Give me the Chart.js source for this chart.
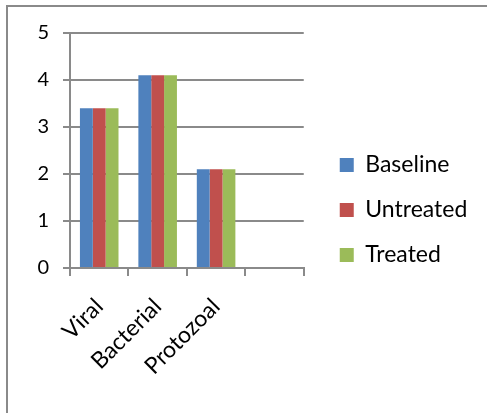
<!DOCTYPE html>
<html>
<head>
<meta charset="utf-8">
<script src="https://cdn.jsdelivr.net/npm/chart.js@4/dist/chart.umd.min.js"></script>
<style>
  html, body { margin: 0; padding: 0; background: #ffffff; }
  #wrap { position: relative; width: 487px; height: 413px; overflow: hidden; }
  #frame { position: absolute; left: 6px; top: 5px; width: 600px; height: 600px;
           border-top: 2px solid #8a8a8a; border-left: 2px solid #8a8a8a; pointer-events: none; }
  canvas { position: absolute; left: 0; top: 0; }
</style>
</head>
<body>
<div id="wrap">
  <canvas id="chart" width="487" height="413"></canvas>
  <div id="frame"></div>
</div>
<script>
// Infection categories (the last slot is left empty on purpose)
const categories = ['Viral', 'Bacterial', 'Protozoal', ''];
const seriesNames = ['Baseline', 'Untreated', 'Treated'];
const baseline  = [3.4, 4.1, 2.1, null];
const untreated = [3.4, 4.1, 2.1, null];
const treated   = [3.4, 4.1, 2.1, null];
const yTicks = [0, 1, 2, 3, 4, 5];

const colors = ['#4F81BD', '#C0504D', '#9BBB59'];
const gridGray = '#8a8a8a';
const fontFamily = 'Lato';

// The layout caps the legend's width, so after layout the legend box is
// moved a little right of the plot and widened up to the canvas edge.
const legendNudge = {
  id: 'legendNudge',
  afterLayout(chart) {
    const lg = chart.legend;
    if (!lg) return;
    lg.left = chart.chartArea.right + 14;
    lg.right = chart.width;
    lg.width = lg.right - lg.left;
  }
};

const seriesData = [baseline, untreated, treated];

function draw() {
  new Chart(document.getElementById('chart'), {
    type: 'bar',
    data: {
      labels: categories,
      datasets: seriesNames.map((name, i) => ({
        label: name,
        data: seriesData[i],
        backgroundColor: colors[i],
        borderWidth: 0,
        categoryPercentage: 0.66,
        barPercentage: 1.0
      }))
    },
    options: {
      responsive: false,
      animation: false,
      events: [],
      layout: { padding: { top: 33, left: 0, right: 82, bottom: 26 } },
      plugins: {
        tooltip: { enabled: false },
        legend: {
          position: 'right',
          align: 'center',
          labels: {
            color: '#000000',
            font: { family: fontFamily, size: 23 },
            boxWidth: 14,
            boxHeight: 14,
            padding: 22
          }
        }
      },
      scales: {
        x: {
          offset: true,
          grid: { display: true, drawOnChartArea: false, color: gridGray, lineWidth: 2, tickLength: 8, offset: true },
          border: { display: true, color: gridGray, width: 2 },
          ticks: {
            color: '#000000',
            font: { family: fontFamily, size: 23 },
            minRotation: 45,
            maxRotation: 45,
            padding: 17,
            autoSkip: false
          },
          afterFit(scale) { scale.height = 413 - 26 - 268; }
        },
        y: {
          min: 0,
          max: 5,
          afterBuildTicks(scale) { scale.ticks = yTicks.map(v => ({ value: v })); },
          grid: { color: gridGray, lineWidth: 2, tickLength: 7 },
          border: { display: true, color: gridGray, width: 2 },
          ticks: {
            color: '#000000',
            font: { family: fontFamily, size: 20 },
            padding: 14
          },
          afterFit(scale) { scale.width = 70; }
        }
      }
    },
    plugins: [legendNudge]
  });
}

Promise.all([
  document.fonts.load('23px Lato'),
  document.fonts.load('20px Lato')
]).then(draw, draw);
</script>
</body>
</html>
